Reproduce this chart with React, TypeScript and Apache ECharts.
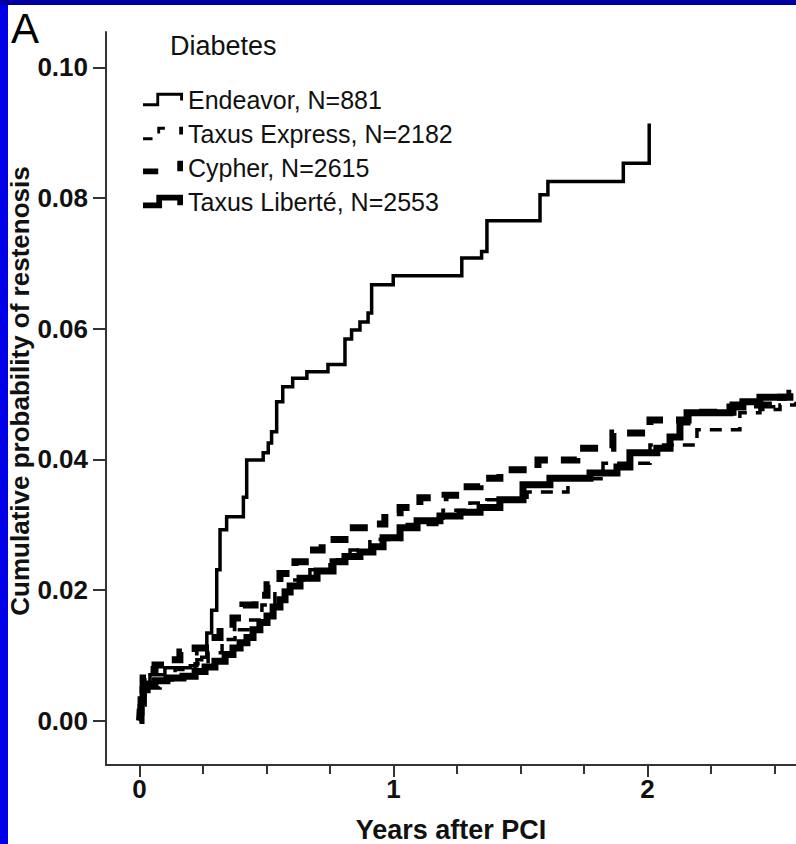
import React, { useEffect, useRef } from "react";
import * as echarts from "echarts";

// ---- data (years after PCI, cumulative probability) ----
const endeavorT = [0, 0.006, 0.014, 0.041, 0.10, 0.20, 0.226, 0.245, 0.265, 0.284, 0.304, 0.317, 0.343, 0.409, 0.422, 0.487, 0.507, 0.520, 0.540, 0.564, 0.603, 0.659, 0.742, 0.809, 0.835, 0.868, 0.900, 0.914, 0.999, 1.269, 1.347, 1.368, 1.577, 1.608, 1.905, 2.007];
const endeavorP = [0, 0.0032, 0.0058, 0.0070, 0.0081, 0.0084, 0.0093, 0.0097, 0.0134, 0.0169, 0.0231, 0.0292, 0.0312, 0.0342, 0.0399, 0.0410, 0.0425, 0.0442, 0.0488, 0.0511, 0.0524, 0.0534, 0.0545, 0.0584, 0.0598, 0.0610, 0.0624, 0.0667, 0.0681, 0.0708, 0.0718, 0.0765, 0.0805, 0.0825, 0.0853, 0.0914];

const taxusExpressT = [0, 0.006, 0.022, 0.041, 0.081, 0.140, 0.219, 0.270, 0.325, 0.376, 0.427, 0.482, 0.533, 0.593, 0.671, 0.750, 0.829, 0.907, 1.026, 1.195, 1.301, 1.368, 1.526, 1.687, 1.825, 2.010, 2.195, 2.364, 2.443, 2.522, 2.585];
const taxusExpressP = [0, 0.0024, 0.0039, 0.0050, 0.0062, 0.0078, 0.0087, 0.0104, 0.0124, 0.0139, 0.0154, 0.0177, 0.0199, 0.0215, 0.0231, 0.0246, 0.0261, 0.0277, 0.0300, 0.0322, 0.0333, 0.0338, 0.0350, 0.0370, 0.0394, 0.0422, 0.0445, 0.0471, 0.0476, 0.0483, 0.0488];

const cypherT = [0, 0.006, 0.014, 0.03, 0.061, 0.10, 0.159, 0.219, 0.278, 0.317, 0.368, 0.407, 0.455, 0.502, 0.553, 0.612, 0.671, 0.719, 0.809, 0.907, 0.966, 1.026, 1.104, 1.203, 1.262, 1.341, 1.419, 1.569, 1.722, 1.864, 2.010, 2.160, 2.337, 2.490, 2.561, 2.585];
const cypherP = [0, 0.0039, 0.0065, 0.0078, 0.0085, 0.0093, 0.0105, 0.0111, 0.0127, 0.0142, 0.0157, 0.0177, 0.0192, 0.0208, 0.0225, 0.0243, 0.0261, 0.0277, 0.0295, 0.0301, 0.0318, 0.0326, 0.0341, 0.0345, 0.0358, 0.0371, 0.0384, 0.0399, 0.0417, 0.0440, 0.0460, 0.0472, 0.0483, 0.0495, 0.0501, 0.0501];

const liberteT = [0, 0.002, 0.006, 0.014, 0.03, 0.061, 0.108, 0.171, 0.219, 0.258, 0.297, 0.337, 0.368, 0.396, 0.423, 0.447, 0.474, 0.502, 0.526, 0.553, 0.573, 0.593, 0.632, 0.699, 0.762, 0.809, 0.868, 0.919, 0.959, 1.026, 1.093, 1.183, 1.262, 1.341, 1.419, 1.510, 1.616, 1.774, 1.880, 1.931, 2.037, 2.089, 2.128, 2.156, 2.325, 2.376, 2.443, 2.549];
const liberteP = [0, 0.0013, 0.0032, 0.0047, 0.0056, 0.0061, 0.0065, 0.0068, 0.0075, 0.0082, 0.0091, 0.0101, 0.0111, 0.0119, 0.0127, 0.0139, 0.0150, 0.0160, 0.0174, 0.0185, 0.0197, 0.0206, 0.0218, 0.0229, 0.0243, 0.0251, 0.0258, 0.0266, 0.0280, 0.0295, 0.0306, 0.0313, 0.0319, 0.0326, 0.0338, 0.0361, 0.0371, 0.0379, 0.0388, 0.0410, 0.0417, 0.0434, 0.0457, 0.0471, 0.0480, 0.0488, 0.0495, 0.0495];

const seriesNames = ["Endeavor, N=881", "Taxus Express, N=2182", "Cypher, N=2615", "Taxus Liberté, N=2553"];
const yTicks = [0, 0.02, 0.04, 0.06, 0.08, 0.1];
const xMajorTicks = [0, 1, 2];
const xMinorTicks = [0, 0.25, 0.5, 0.75, 1, 1.25, 1.5, 1.75, 2, 2.25, 2.5];

const FONT = "'Liberation Sans', Arial, Helvetica, sans-serif";

const pair = (t: number[], p: number[]) => t.map((v, i) => [v, p[i]]);

const icons = [
  "path://M0 11 L14 11 L14 0 L42 0 L42 8 L39 8 L39 3 L17 3 L17 14 L0 14 Z",
  "path://M0 11 L10 11 L10 14 L0 14 Z M15 0 L23 0 L23 3 L18 3 L18 7 L15 7 Z M38 0 L42 0 L42 8 L38 8 Z",
  "path://M0 8 L16 8 L16 14 L0 14 Z M36 0 L42 0 L42 11 L36 11 Z",
  "path://M0 8 L14 8 L14 0 L42 0 L42 11 L36 11 L36 6 L20 6 L20 14 L0 14 Z",
];

export default function App() {
  const ref = useRef<HTMLDivElement>(null);
  useEffect(() => {
    if (!ref.current) return;
    const chart = echarts.init(ref.current, null, { renderer: "svg" });
    const axisColor = "#333";
    const labelStyle = { fontSize: 26, fontWeight: "bold" as const, color: "#111", fontFamily: FONT };
    const xMin = -0.132, xMax = 2.585;
    chart.setOption({
      animation: false,
      backgroundColor: "#ffffff",
      grid: { left: 106, right: 0, top: 32, bottom: 79, containLabel: false },
      legend: {
        orient: "vertical",
        left: 138,
        top: 81,
        itemWidth: 40,
        itemHeight: 14,
        itemGap: 7,
        selectedMode: false,
        itemStyle: { color: "#000", borderWidth: 0 },
        textStyle: { fontSize: 25, color: "#111", fontFamily: FONT, lineHeight: 27 },
        data: seriesNames.map((n, i) => ({ name: n, icon: icons[i] })),
      },
      xAxis: [
        {
          type: "value", min: xMin, max: xMax, position: "bottom",
          axisLine: { show: true, onZero: false, lineStyle: { color: axisColor, width: 2 } },
          axisTick: { show: true, customValues: xMinorTicks, length: 9, lineStyle: { color: axisColor, width: 2 } },
          axisLabel: { show: false },
          splitLine: { show: false },
        },
        {
          type: "value", min: xMin, max: xMax, position: "bottom",
          axisLine: { show: false, onZero: false },
          axisTick: { show: true, customValues: xMajorTicks, length: 12, lineStyle: { color: axisColor, width: 2 } },
          axisLabel: { show: true, customValues: xMajorTicks, margin: 11, ...labelStyle },
          splitLine: { show: false },
        },
      ],
      yAxis: {
        type: "value", min: -0.0068, max: 0.1054,
        axisLine: { show: true, onZero: false, lineStyle: { color: axisColor, width: 2 } },
        axisTick: { show: true, customValues: yTicks, length: 13, lineStyle: { color: axisColor, width: 2 } },
        axisLabel: { show: true, customValues: yTicks, margin: 18, formatter: (v: number) => v.toFixed(2), ...labelStyle },
        splitLine: { show: false },
      },
      graphic: [
        { type: "rect", shape: { x: 0, y: 0, width: 8, height: 844 }, style: { fill: "#0000e8" }, silent: true },
        { type: "rect", shape: { x: 0, y: 0, width: 796, height: 5 }, style: { fill: "#0000a0" }, silent: true },
        { type: "text", x: 11, y: 7, style: { text: "A", fontSize: 42, fontFamily: FONT, fill: "#000" } },
        { type: "text", x: 170, y: 46, style: { text: "Diabetes", fontSize: 27, fontFamily: FONT, fill: "#111", verticalAlign: "middle" } },
        { type: "text", x: 20, y: 391, rotation: Math.PI / 2, style: { text: "Cumulative probability of restenosis", fontSize: 26, fontWeight: "bold", fontFamily: FONT, fill: "#111", align: "center", verticalAlign: "middle" } },
        { type: "text", x: 451, y: 830, style: { text: "Years after PCI", fontSize: 27, fontWeight: "bold", fontFamily: FONT, fill: "#111", align: "center", verticalAlign: "middle" } },
      ],
      series: [
        { name: seriesNames[0], type: "line", step: "end", showSymbol: false, data: pair(endeavorT, endeavorP), itemStyle: { color: "#000" }, lineStyle: { color: "#000", width: 3.5, join: "miter" }, z: 5 },
        { name: seriesNames[1], type: "line", step: "end", showSymbol: false, data: pair(taxusExpressT, taxusExpressP), itemStyle: { color: "#000" }, lineStyle: { color: "#000", width: 3.5, type: [12, 9], join: "miter" }, z: 4 },
        { name: seriesNames[2], type: "line", step: "end", showSymbol: false, data: pair(cypherT, cypherP), itemStyle: { color: "#000" }, lineStyle: { color: "#000", width: 7, type: [18, 13], join: "miter" }, z: 3 },
        { name: seriesNames[3], type: "line", step: "end", showSymbol: false, data: pair(liberteT, liberteP), itemStyle: { color: "#000" }, lineStyle: { color: "#000", width: 7, join: "miter" }, z: 2 },
      ],
    });
    return () => chart.dispose();
  }, []);
  return <div ref={ref} style={{ position: "absolute", left: 0, top: 0, width: 796, height: 844 }} />;
}
